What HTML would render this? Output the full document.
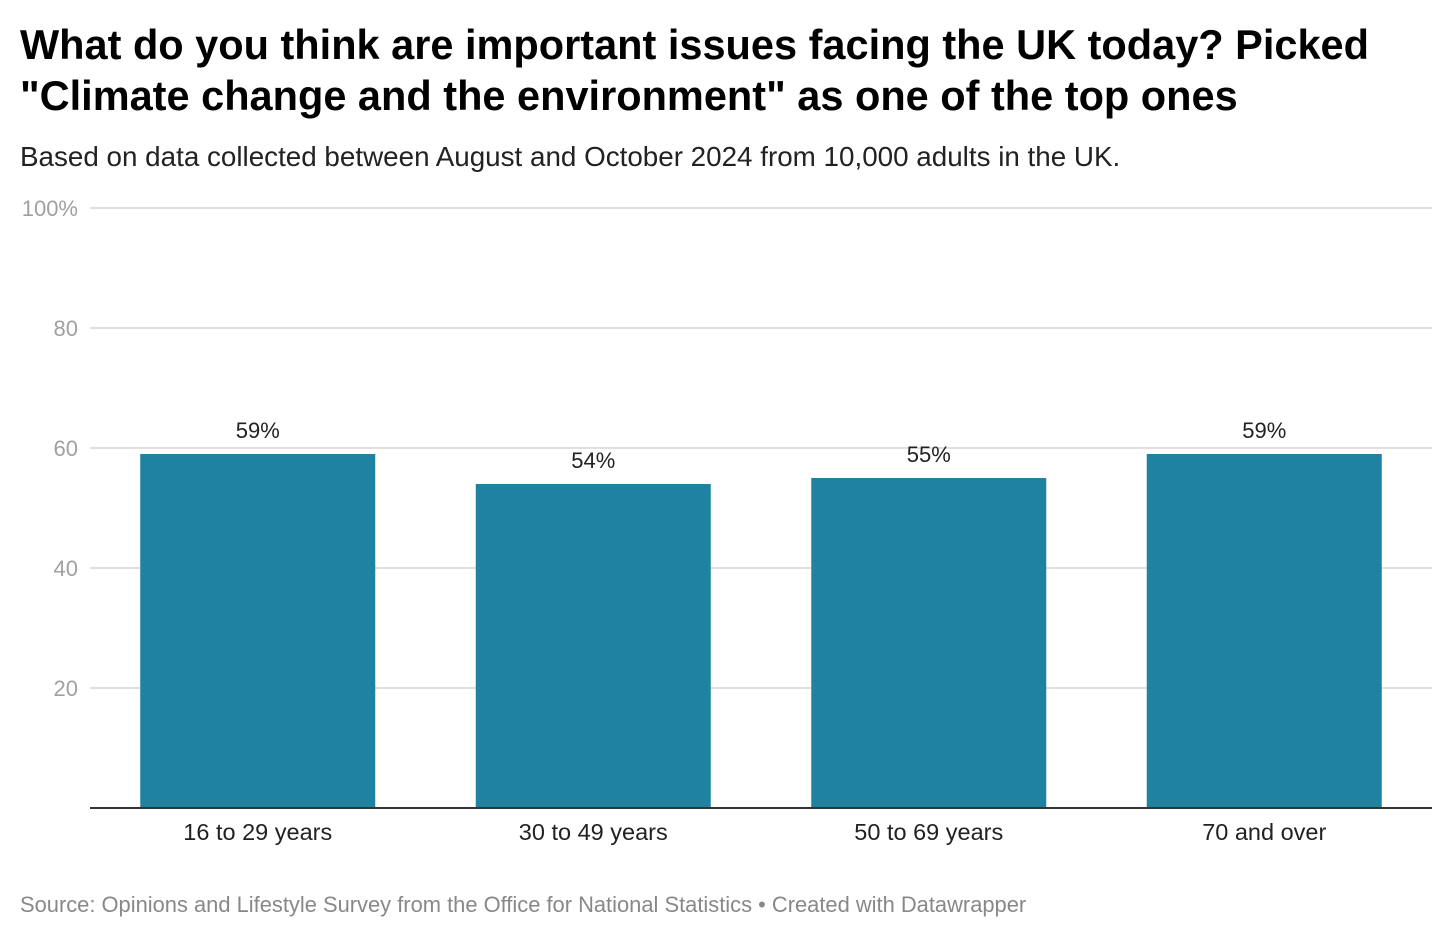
<!DOCTYPE html>
<html><head><meta charset="utf-8"><style>
body{margin:0;background:#fff;width:1452px;height:938px;overflow:hidden;font-family:"Liberation Sans",Arial,sans-serif}
h1{position:absolute;left:20px;top:19px;margin:0;font-size:41.5px;line-height:51px;font-weight:bold;color:#000;letter-spacing:0px;white-space:nowrap}
.sub{position:absolute;left:20px;top:141px;font-size:27.8px;color:#222;white-space:nowrap}
.src{position:absolute;left:20px;top:892px;font-size:21.9px;color:#888;white-space:nowrap}
svg{position:absolute;left:0;top:0}
</style></head><body>
<h1>What do you think are important issues facing the UK today? Picked<br>"Climate change and the environment" as one of the top ones</h1>
<div class="sub">Based on data collected between August and October 2024 from 10,000 adults in the UK.</div>
<svg id="c" width="1452" height="938"></svg>
<div class="src">Source: Opinions and Lifestyle Survey from the Office for National Statistics • Created with Datawrapper</div>
<script>
const categories=["16 to 29 years","30 to 49 years","50 to 69 years","70 and over"];
const values=[59,54,55,59];
const ticks=[20,40,60,80,100];
const tickLabels=["20","40","60","80","100%"];
const NS="http://www.w3.org/2000/svg",svg=document.getElementById('c');
const x0=90,x1=1432,y0=808,y100=208;
const y=v=>y0-(v/100)*(y0-y100);
const band=(x1-x0)/categories.length,bw=235;
function mk(t,a,txt){const e=document.createElementNS(NS,t);for(const k in a)e.setAttribute(k,a[k]);if(txt!=null)e.textContent=txt;svg.appendChild(e);return e;}
ticks.forEach((t,i)=>{
 const l=mk('line',{x1:x0,x2:x1,y1:y(t),y2:y(t),stroke:'#e0e0e0','stroke-width':2});
 
 
 const tx=mk('text',{x:78,y:y(t)+8,'text-anchor':'end','font-size':22,fill:'#a0a0a0','font-family':'Liberation Sans, sans-serif'},tickLabels[i]);
 
 
});
categories.forEach((c,i)=>{
 const cx=x0+band*(i+0.5);
 const r=mk('rect',{x:cx-bw/2,y:y(values[i]),width:bw,height:y0-y(values[i]),fill:'#1f82a0'});
 
 
 const v=mk('text',{x:cx,y:y(values[i])-16,'text-anchor':'middle','font-size':22,fill:'#222','font-family':'Liberation Sans, sans-serif'},values[i]+'%');
 
 
 const l=mk('text',{x:cx,y:840,'text-anchor':'middle','font-size':23.5,fill:'#222','font-family':'Liberation Sans, sans-serif'},c);
 
 
});
const b=mk('line',{x1:x0,x2:x1,y1:y0,y2:y0,stroke:'#333','stroke-width':2});


</script>
</body></html>
